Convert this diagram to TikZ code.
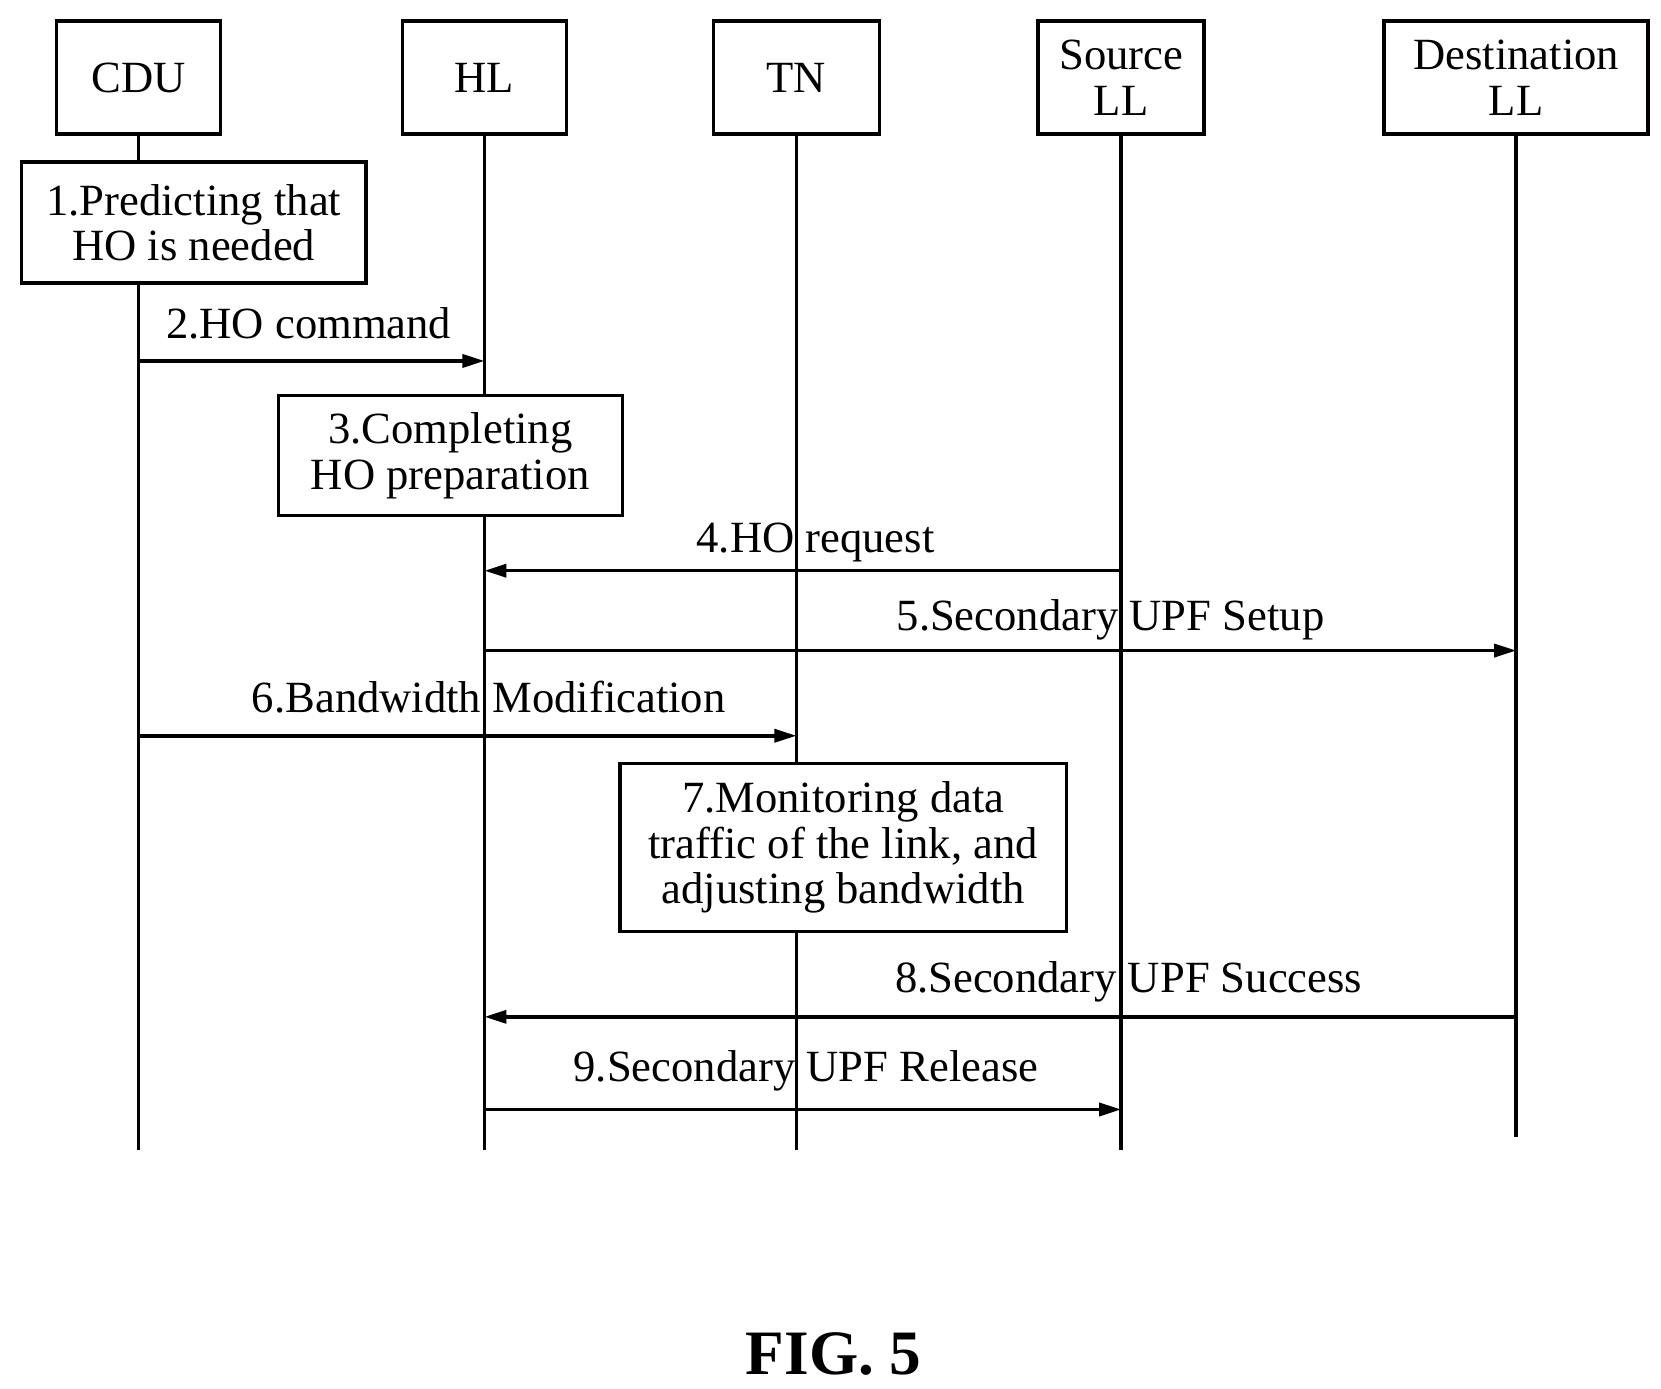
\documentclass[tikz,border=0pt]{standalone}
\usepackage{fontspec}
\setmainfont{Liberation Serif}
\usetikzlibrary{arrows.meta, positioning}

\begin{document}
\begin{tikzpicture}[
    x=0.01065cm, y=-0.01065cm,
    every node/.style={font=\fontsize{12.7}{12.9}\selectfont, inner sep=0pt},
    head/.style={draw, line width=1pt, minimum height=1.13cm, align=center},
    action/.style={draw, line width=1pt, fill=white, align=center},
    life/.style={line width=1pt},
    msg/.style={-{Triangle[length=0.22cm, width=0.13cm]}, line width=1pt},
    lbl/.style={anchor=base}
]
    \useasboundingbox (0,0) rectangle (1560,1304);

    % Heads
    \node[head, minimum width=1.64cm] (cdu) at (130,73) {CDU};
    \node[head, minimum width=1.64cm] (hl) at (455,73) {HL};
    \node[head, minimum width=1.66cm] (tn) at (748,73) {TN};
    \node[head, minimum width=1.66cm] (src) at (1053,73) {Source\\LL};
    \node[head, minimum width=2.64cm] (dst) at (1424,73) {Destination\\LL};

    % Lifeline ends
    \coordinate (cduE) at (130,1080);
    \coordinate (hlE) at (455,1080);
    \coordinate (tnE) at (748,1080);
    \coordinate (srcE) at (1053,1080);
    \coordinate (dstE) at (1424,1068);
    \foreach \n in {cdu, hl, tn, src, dst}
        \draw[life] (\n.south) -- (\n E);

    % Boxes
    \node[action, minimum width=3.45cm, minimum height=1.21cm] (s1) at (182,209) {1.Predicting that\\HO is needed};
    \node[action, minimum width=3.44cm, minimum height=1.2cm] (s3) at (423,428) {3.Completing\\HO preparation};
    \node[action, minimum width=4.47cm, minimum height=1.68cm] (s7) at (792,796) {7.Monitoring data\\traffic of the link, and\\adjusting bandwidth};

    % Messages
    \coordinate (m2a) at (130,339); \coordinate (m2b) at (455,339);
    \coordinate (m4a) at (1053,536); \coordinate (m4b) at (455,536);
    \coordinate (m5a) at (455,611); \coordinate (m5b) at (1424,611);
    \coordinate (m6a) at (130,691); \coordinate (m6b) at (748,691);
    \coordinate (m8a) at (1424,955); \coordinate (m8b) at (455,955);
    \coordinate (m9a) at (455,1042); \coordinate (m9b) at (1053,1042);
    \draw[msg] (m2a) -- (m2b);
    \draw[msg] (m4a) -- (m4b);
    \draw[msg] (m5a) -- (m5b);
    \draw[msg] (m6a) -- (m6b);
    \draw[msg] (m8a) -- (m8b);
    \draw[msg] (m9a) -- (m9b);

    % Labels
    \node[lbl] (l2) at (290,318) {2.HO command};
    \node[lbl] (l4) at (766,519) {4.HO request};
    \node[lbl] (l5) at (1043,592) {5.Secondary UPF Setup};
    \node[lbl] (l6) at (459,669) {6.Bandwidth Modification};
    \node[lbl] (l8) at (1060,932) {8.Secondary UPF Success};
    \node[lbl] (l9) at (757,1016) {9.Secondary UPF Release};

    \node[font=\fontsize{18}{20}\selectfont\bfseries] (fig) at (783,1272) {FIG. 5};
\end{tikzpicture}
\end{document}
